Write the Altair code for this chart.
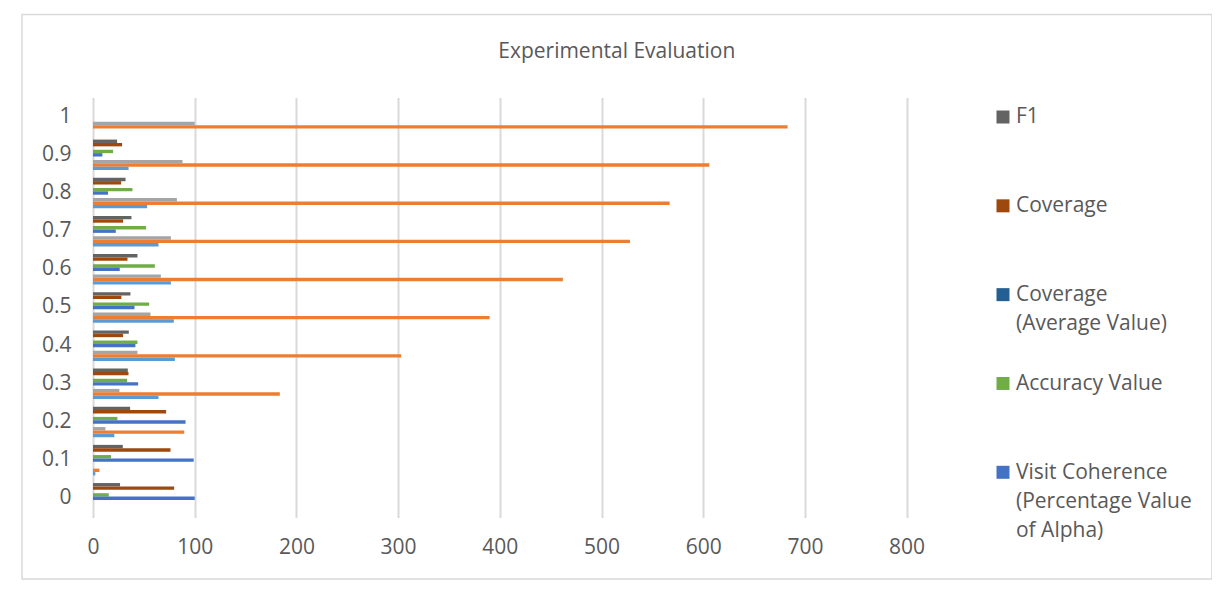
import altair as alt
import pandas as pd

# ---------------- data ----------------
categories = ["0", "0.1", "0.2", "0.3", "0.4", "0.5", "0.6", "0.7", "0.8", "0.9", "1"]

f1 = [26.6, 29.3, 36.5, 34.2, 35.2, 36.8, 43.7, 37.8, 32.0, 23.7, 0]
coverage = [79.8, 76.2, 71.9, 34.9, 29.6, 27.9, 33.9, 29.6, 27.6, 28.6, 0]
coverage_avg = [0, 0, 0, 0, 0, 0, 0, 0, 0, 0, 0]
accuracy = [15.5, 17.7, 24.0, 33.5, 43.7, 55.2, 60.8, 52.2, 38.8, 19.7, 0]
visit_coherence = [100, 99, 91, 44.4, 41.7, 40.8, 26.3, 22.4, 14.8, 9.2, 0]
series_7 = [0, 0, 12.2, 26.0, 43.7, 56.5, 66.7, 76.6, 82.5, 88.0, 100]
series_8 = [0, 6.3, 89.7, 183.7, 303, 390, 462, 528, 567, 606, 683]
series_9 = [0, 2.3, 21.0, 64.4, 80.5, 79.5, 76.6, 64.4, 53.2, 35.0, 0]

series_names = [
    "F1",
    "Coverage",
    "Coverage (Average Value)",
    "Accuracy Value",
    "Visit Coherence (Percentage Value of Alpha)",
    "Series 6",
    "Series 7",
    "Series 8",
    "Series 9",
]
series_colors = ["#636363", "#9E480E", "#255E91", "#70AD47", "#4472C4",
                 "#FFC000", "#A5A5A5", "#ED7D31", "#5B9BD5"]

legend_names = series_names[:5]
legend_labels = ["F1", "Coverage", "Coverage\n(Average Value)", "Accuracy Value",
                 "Visit Coherence\n(Percentage Value\nof Alpha)"]

series_values = {
    "F1": f1,
    "Coverage": coverage,
    "Coverage (Average Value)": coverage_avg,
    "Accuracy Value": accuracy,
    "Visit Coherence (Percentage Value of Alpha)": visit_coherence,
    "Series 7": series_7,
    "Series 8": series_8,
    "Series 9": series_9,
}

rows = []
for name, vals in series_values.items():
    for c, v in zip(categories, vals):
        rows.append({"alpha": c, "series": name, "value": v})
df = pd.DataFrame(rows)

legend_df = pd.DataFrame({"series": legend_names, "label": legend_labels})

FONT = "Open Sans"
TXT = "#595959"
GRID = "#D9D9D9"

color_scale = alt.Scale(domain=series_names, range=series_colors)

bars = alt.Chart(df).mark_bar().encode(
    x=alt.X("value:Q",
            scale=alt.Scale(domain=[0, 800], nice=False),
            axis=alt.Axis(values=[0, 100, 200, 300, 400, 500, 600, 700, 800],
                          title=None, grid=True, gridColor=GRID, gridWidth=2,
                          domain=False, ticks=False, labelFontSize=21,
                          labelFlush=False, labelColor=TXT, labelFont=FONT,
                          labelPadding=19)),
    y=alt.Y("alpha:N", sort=list(reversed(categories)),
            scale=alt.Scale(domain=list(reversed(categories)),
                            paddingInner=0.2, paddingOuter=0.1),
            axis=alt.Axis(title=None, domain=False, ticks=False, labelFontSize=21,
                          labelColor=TXT, labelFont=FONT, labelPadding=22)),
    yOffset=alt.YOffset("series:N",
                        scale=alt.Scale(domain=series_names, paddingInner=0,
                                        paddingOuter=0)),
    color=alt.Color("series:N", scale=color_scale, legend=None),
)

legend_y = alt.Y("series:N",
                 scale=alt.Scale(type="point", domain=legend_names,
                                 range=[19.4, 374.7], padding=0),
                 axis=None)

legend_squares = alt.Chart(legend_df).mark_square(size=169, opacity=1).encode(
    x=alt.value(910),
    y=legend_y,
    color=alt.Color("series:N", scale=color_scale, legend=None),
)

legend_text = alt.Chart(legend_df).mark_text(
    align="left", baseline="line-top", dy=-14.5, lineHeight=29, lineBreak="\n",
    fontSize=21, font=FONT, color=TXT
).encode(
    x=alt.value(923),
    y=legend_y,
    text="label:N",
)

frame = alt.Chart(pd.DataFrame({"f": [0]})).mark_rect(
    fillOpacity=0, stroke=GRID, strokeWidth=1.5
).encode(
    x=alt.value(-71), x2=alt.value(1119), y=alt.value(-83), y2=alt.value(481.5)
)

chart = alt.layer(frame, bars, legend_squares, legend_text).resolve_scale(
    y="independent"
).properties(
    width=813.6,
    height=419.8,
    autosize=alt.AutoSizeParams(type="none"),
    padding={"left": 85, "top": 89.6, "right": 305, "bottom": 85},
    title=alt.Title("Experimental Evaluation", fontSize=21, font=FONT,
                    fontWeight="normal", color=TXT, frame="group", dx=117,
                    offset=0, dy=48),
).configure(background="white").configure_view(stroke=None)

chart.save("out.html", embed_options={"renderer": "svg", "actions": False})
